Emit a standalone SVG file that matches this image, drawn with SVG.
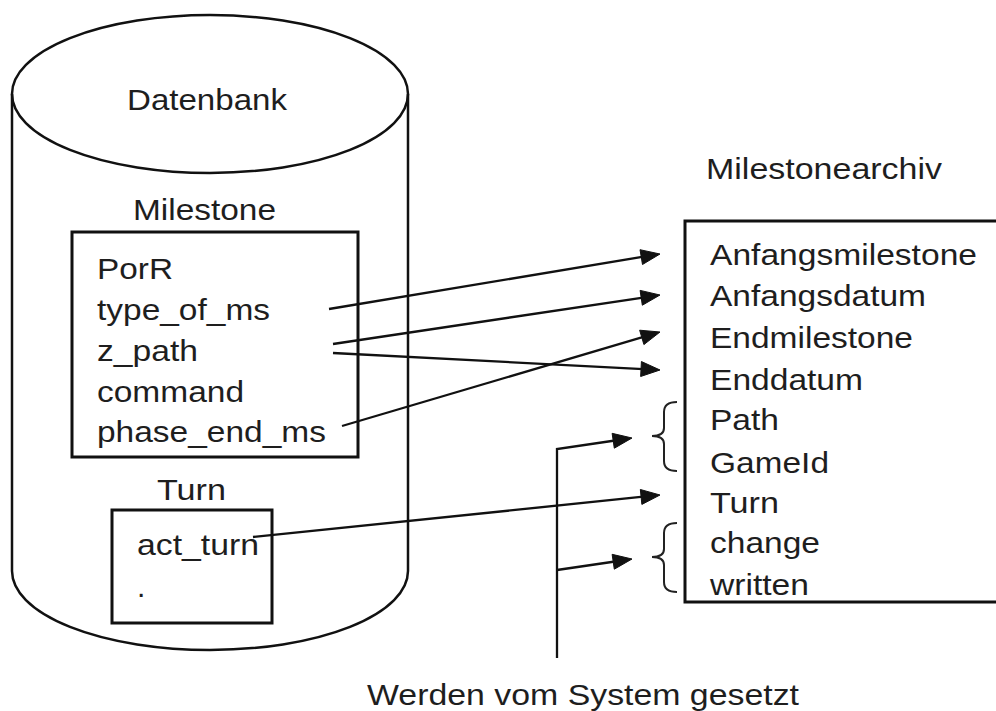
<svg xmlns="http://www.w3.org/2000/svg" width="996" height="711" viewBox="0 0 996 711">
  <style>
    text { font-family: "Liberation Sans", Arial, sans-serif; font-size: 30px; fill: #1e1e1e; }
    .shape { fill: none; stroke: #111; stroke-width: 2.5; }
    .box { fill: none; stroke: #111; stroke-width: 3; }
    .conn { fill: none; stroke: #111; stroke-width: 2.3; }
    .brace { fill: none; stroke: #222; stroke-width: 2; }
    .head { fill: #111; stroke: #111; stroke-width: 1; stroke-linejoin: round; }
  </style>
  <rect width="996" height="711" fill="#fff"/>

  <!-- Datenbank cylinder -->
  <g id="datenbank">
    <path class="shape" d="M12,94 L12,571 A198,79 0 0 0 408,571 L408,94"/>
    <ellipse class="shape" cx="210" cy="94" rx="198" ry="79"/>
    <text x="127" y="110" textLength="160" lengthAdjust="spacingAndGlyphs">Datenbank</text>
  </g>

  <!-- Milestone table -->
  <g id="milestone">
    <text x="133" y="220" textLength="143" lengthAdjust="spacingAndGlyphs">Milestone</text>
    <rect class="box" x="72" y="232" width="286" height="225"/>
    <text x="97" y="279" textLength="76" lengthAdjust="spacingAndGlyphs">PorR</text>
    <text x="97" y="320" textLength="173" lengthAdjust="spacingAndGlyphs">type_of_ms</text>
    <text x="97" y="361" textLength="101" lengthAdjust="spacingAndGlyphs">z_path</text>
    <text x="97" y="402" textLength="147" lengthAdjust="spacingAndGlyphs">command</text>
    <text x="97" y="442" textLength="229" lengthAdjust="spacingAndGlyphs">phase_end_ms</text>
  </g>

  <!-- Turn table -->
  <g id="turn">
    <text x="157" y="500" textLength="69" lengthAdjust="spacingAndGlyphs">Turn</text>
    <rect class="box" x="112" y="510" width="160" height="113"/>
    <text x="137" y="555" textLength="122" lengthAdjust="spacingAndGlyphs">act_turn</text>
    <text x="137" y="597">.</text>
  </g>

  <!-- Milestonearchiv table (open to the right) -->
  <g id="milestonearchiv">
    <text x="706" y="179" textLength="236" lengthAdjust="spacingAndGlyphs">Milestonearchiv</text>
    <path class="box" d="M1000,221 L685,221 L685,602 L1000,602"/>
    <text x="710" y="265" textLength="267" lengthAdjust="spacingAndGlyphs">Anfangsmilestone</text>
    <text x="710" y="306" textLength="216" lengthAdjust="spacingAndGlyphs">Anfangsdatum</text>
    <text x="710" y="348" textLength="203" lengthAdjust="spacingAndGlyphs">Endmilestone</text>
    <text x="710" y="390" textLength="153" lengthAdjust="spacingAndGlyphs">Enddatum</text>
    <text x="710" y="430" textLength="69" lengthAdjust="spacingAndGlyphs">Path</text>
    <text x="710" y="473" textLength="119" lengthAdjust="spacingAndGlyphs">GameId</text>
    <text x="710" y="513" textLength="69" lengthAdjust="spacingAndGlyphs">Turn</text>
    <text x="710" y="553" textLength="110" lengthAdjust="spacingAndGlyphs">change</text>
    <text x="710" y="595" textLength="99" lengthAdjust="spacingAndGlyphs">written</text>
    <path class="brace" d="M677,402 Q664,402 664,412 L664,428 Q664,436 652,436 Q664,436 664,444 L664,461 Q664,471 677,471"/>
    <path class="brace" d="M677,523 Q664,523 664,533 L664,549 Q664,557 652,557 Q664,557 664,565 L664,582 Q664,592 677,592"/>
  </g>

  <!-- System label -->
  <g id="system">
    <text x="367" y="705" textLength="432" lengthAdjust="spacingAndGlyphs">Werden vom System gesetzt</text>
  </g>

  <!-- Connectors: shafts, then filled arrowheads at each tip -->
  <g id="connectors">
    <path class="conn" d="M329,309 L648.16,255.97"/>
    <path class="conn" d="M333,344 L648.13,296.78"/>
    <path class="conn" d="M333,353 L648.02,369.38"/>
    <path class="conn" d="M342,426 L648.49,335.40"/>
    <path class="conn" d="M253,537 L648.06,496.23"/>
    <path class="conn" d="M557,658 L557,449 L620.13,439.74"/>
    <path class="conn" d="M557,570 L620.13,560.74"/>
    <path class="head" d="M660,254 L642.49,264.51 L640.03,249.71 Z"/>
    <path class="head" d="M660,295 L642.32,305.23 L640.10,290.39 Z"/>
    <path class="head" d="M660,370 L640.64,376.50 L641.42,361.52 Z"/>
    <path class="head" d="M660,332 L643.91,344.58 L639.65,330.20 Z"/>
    <path class="head" d="M660,495 L641.87,504.41 L640.33,489.49 Z"/>
    <path class="head" d="M632,438 L614.30,448.18 L612.12,433.34 Z"/>
    <path class="head" d="M632,559 L614.30,569.18 L612.12,554.34 Z"/>
  </g>
</svg>
